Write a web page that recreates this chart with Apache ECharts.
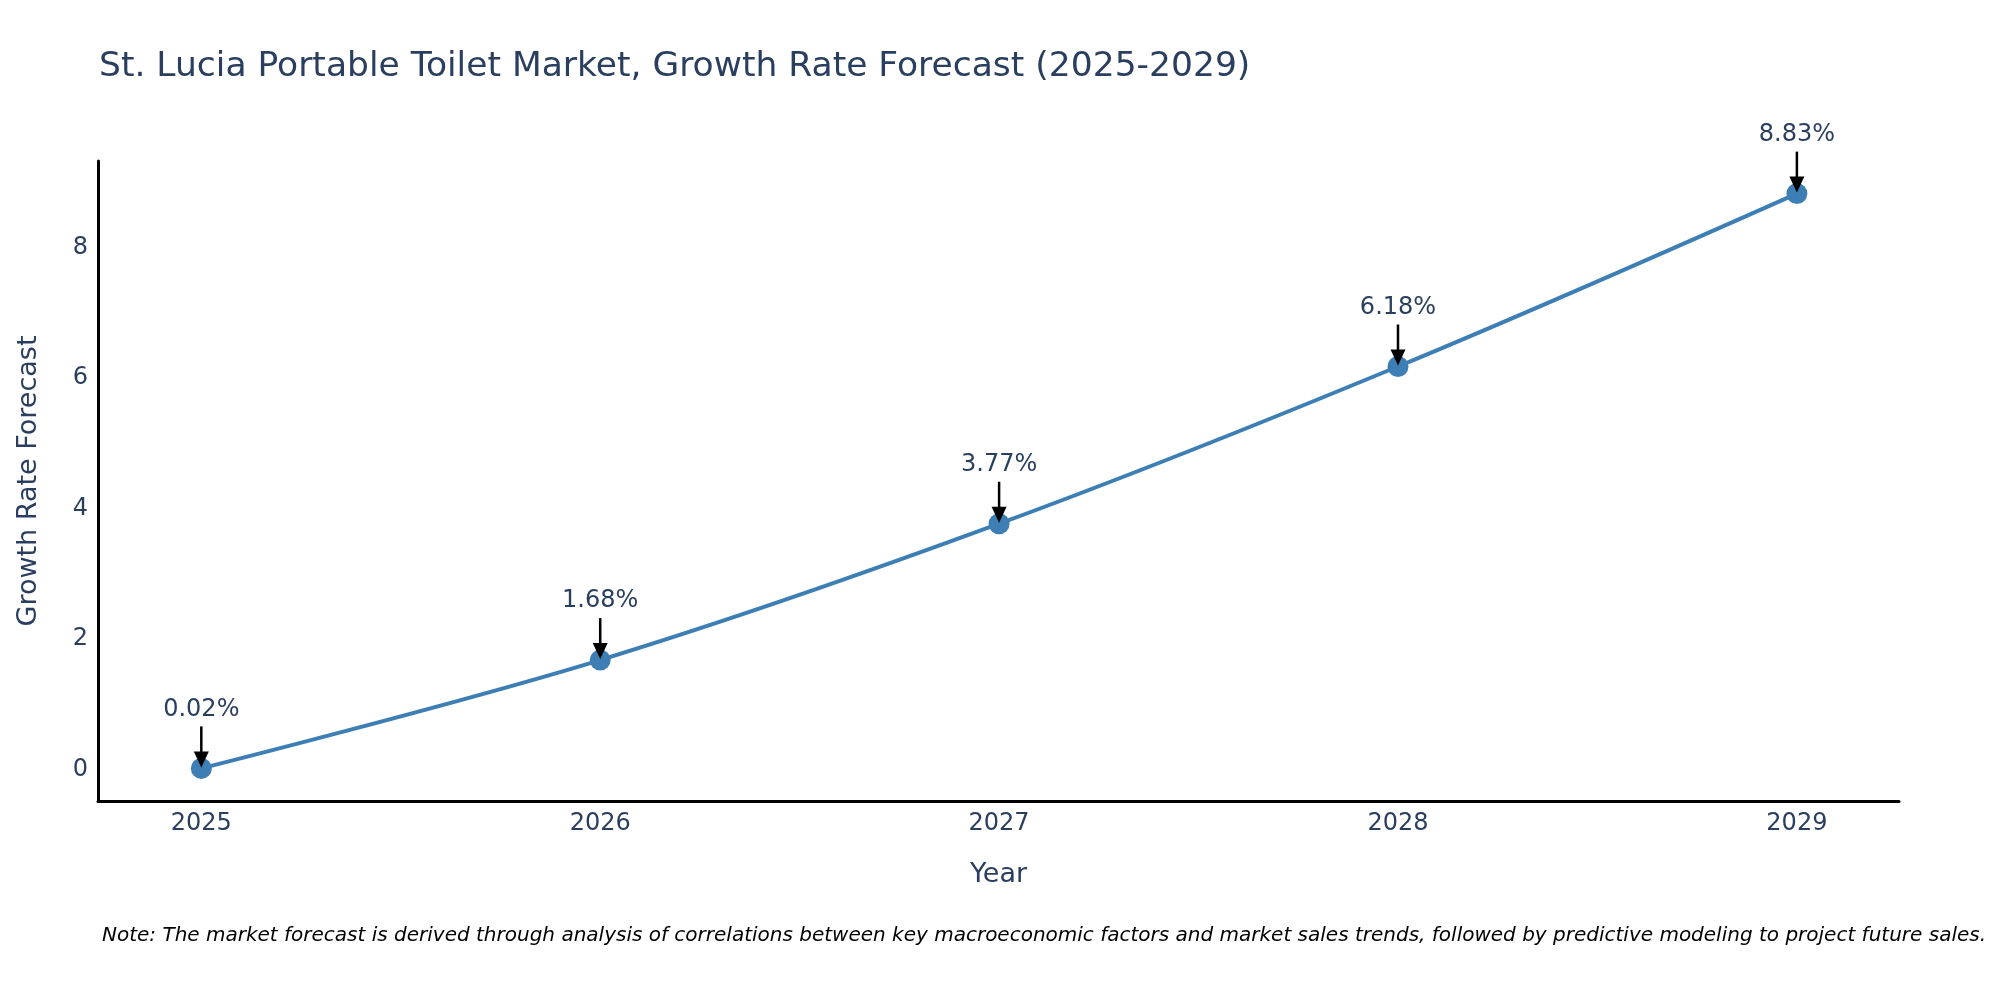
<!DOCTYPE html>
<html>
<head>
<meta charset="utf-8">
<script src="https://cdn.jsdelivr.net/npm/echarts@6/dist/echarts.min.js"></script>
<style>
  html, body { margin: 0; padding: 0; background: #fff; }
  #chart { width: 2000px; height: 1000px; }
</style>
</head>
<body>
<div id="chart"></div>
<script>
const years = [2025, 2026, 2027, 2028, 2029];
const growthRates = [0.02, 1.68, 3.77, 6.18, 8.83];
const rateLabels = ['0.02%', '1.68%', '3.77%', '6.18%', '8.83%'];
const yTicks = [0, 2, 4, 6, 8];

const titleText = 'St. Lucia Portable Toilet Market, Growth Rate Forecast (2025-2029)';
const noteText = 'Note: The market forecast is derived through analysis of correlations between key macroeconomic factors and market sales trends, followed by predictive modeling to project future sales.';

const textColor = '#2a3f5f';
const lineColor = '#3d7fb4';
const fontFamily = '"DejaVu Sans", Verdana, sans-serif';

const lineData = years.map((y, i) => [y, growthRates[i]]);
const annData = years.map((y, i) => [y, growthRates[i], rateLabels[i]]);

const chart = echarts.init(document.getElementById('chart'));
chart.setOption({
  backgroundColor: '#ffffff',
  animation: false,
  title: [
    {
      text: titleText,
      left: 94,
      top: 45,
      textStyle: { fontFamily, fontSize: 34.5, fontWeight: 'normal', color: textColor }
    },
    {
      text: noteText,
      left: 97,
      top: 921,
      textStyle: { fontFamily, fontSize: 20, fontStyle: 'italic', fontWeight: 'normal', color: '#000' }
    }
  ],
  grid: { left: 98, right: 101, top: 161, bottom: 199, containLabel: false },
  xAxis: {
    type: 'value',
    min: 2024.741,
    max: 2029.256,
    name: 'Year',
    nameLocation: 'middle',
    nameGap: 60,
    nameTextStyle: { fontFamily, fontSize: 27, color: textColor },
    axisLine: { show: true, onZero: false, lineStyle: { color: '#000', width: 3 } },
    axisTick: { show: false },
    splitLine: { show: false },
    axisLabel: {
      customValues: years,
      formatter: v => String(Math.round(v)),
      margin: 11,
      fontFamily, fontSize: 24, color: textColor
    }
  },
  yAxis: {
    type: 'value',
    min: -0.48,
    max: 9.33,
    name: 'Growth Rate Forecast',
    nameLocation: 'middle',
    nameGap: 56,
    nameTextStyle: { fontFamily, fontSize: 27, color: textColor },
    axisLine: { show: true, onZero: false, lineStyle: { color: '#000', width: 3 } },
    axisTick: { show: false },
    splitLine: { show: false },
    axisLabel: {
      customValues: yTicks,
      margin: 10,
      fontFamily, fontSize: 24, color: textColor
    }
  },
  series: [
    {
      type: 'line',
      data: lineData,
      smooth: 0.35,
      symbol: 'circle',
      symbolSize: 21,
      lineStyle: { color: lineColor, width: 4 },
      itemStyle: { color: lineColor },
      z: 2
    },
    {
      type: 'custom',
      data: annData,
      clip: false,
      z: 5,
      renderItem: function (params, api) {
        const p = api.coord([api.value(0), api.value(1)]);
        const label = rateLabels[params.dataIndex];
        return {
          type: 'group',
          children: [
            {
              type: 'line',
              shape: { x1: p[0], y1: p[1] - 42, x2: p[0], y2: p[1] - 14 },
              style: { stroke: '#000', lineWidth: 2.5 }
            },
            {
              type: 'polygon',
              shape: { points: [[p[0] - 7.5, p[1] - 17], [p[0] + 7.5, p[1] - 17], [p[0], p[1] - 1]] },
              style: { fill: '#000' }
            },
            {
              type: 'text',
              style: {
                x: p[0], y: p[1] - 59,
                text: label,
                align: 'center', verticalAlign: 'middle',
                font: '24px ' + fontFamily,
                fill: textColor
              }
            }
          ]
        };
      }
    }
  ]
});
</script>
</body>
</html>
